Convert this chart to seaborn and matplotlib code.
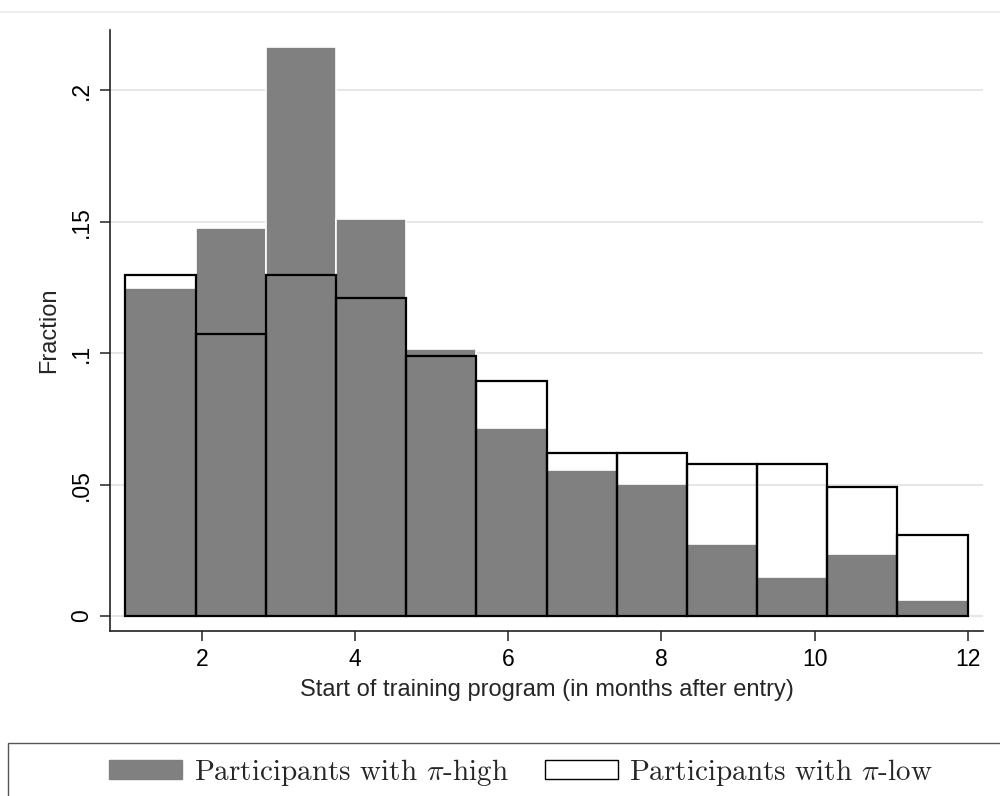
import numpy as np
import pandas as pd
import matplotlib
matplotlib.use("Agg")
import matplotlib.pyplot as plt
from matplotlib.patches import Patch, Rectangle
from matplotlib.lines import Line2D
import seaborn as sns

# ---- data (fractions per monthly bin) ----
bin_low_edge = 1
bin_high_edge = 12
n_bins = 12
frac_pi_high = [0.1248, 0.1475, 0.2167, 0.1512, 0.1017, 0.0716,
                0.0555, 0.0503, 0.0274, 0.0150, 0.0237, 0.0061]
frac_pi_low = [0.1299, 0.1075, 0.1299, 0.1212, 0.0988, 0.0895,
               0.0622, 0.0622, 0.0579, 0.0579, 0.0490, 0.0310]
x_ticks = [2, 4, 6, 8, 10, 12]
y_ticks = [0, 0.05, 0.10, 0.15, 0.20]
y_tick_labels = ["0", ".05", ".1", ".15", ".2"]
label_high = r"Participants with $\pi$-high"
label_low = r"Participants with $\pi$-low"

edges = np.linspace(bin_low_edge, bin_high_edge, n_bins + 1)
centers = (edges[:-1] + edges[1:]) / 2
df_high = pd.DataFrame({"start": centers, "frac": frac_pi_high})
df_low = pd.DataFrame({"start": centers, "frac": frac_pi_low})

sns.set_style("white")
plt.rcParams["font.family"] = ["Liberation Sans", "DejaVu Sans"]
plt.rcParams["mathtext.fontset"] = "cm"

fig = plt.figure(figsize=(10, 7.96), dpi=100)
ax = fig.add_axes([0.110, 0.2073, 0.873, 0.755])

gray = "#808080"
sns.histplot(data=df_high, x="start", weights="frac",
             bins=n_bins, binrange=(bin_low_edge, bin_high_edge),
             stat="count", color=gray, edgecolor="white",
             linewidth=1.2, alpha=1, ax=ax)
sns.histplot(data=df_low, x="start", weights="frac",
             bins=n_bins, binrange=(bin_low_edge, bin_high_edge),
             stat="count", fill=False, color="black",
             linewidth=1.6, ax=ax)

ax.set_xlim(0.8, 12.2)
ax.set_ylim(-0.0057, 0.223)
ax.set_xticks(x_ticks)
ax.set_yticks(y_ticks)
ax.set_yticklabels(y_tick_labels, rotation=90, va="center")
ax.grid(axis="y", color="#e6e6e6", linewidth=1.4, zorder=0)
ax.set_axisbelow(True)
for s in ["top", "right"]:
    ax.spines[s].set_visible(False)
for s in ["left", "bottom"]:
    ax.spines[s].set_color("#222222")
    ax.spines[s].set_linewidth(1.2)
ax.tick_params(axis="both", direction="out", length=7, width=1.1,
               color="#222222", labelsize=16.5, pad=5, labelcolor="black")
ax.tick_params(axis="both", which="both", bottom=True, left=True)
ax.set_xlabel("Start of training program (in months after entry)",
              fontsize=17, labelpad=6)
ax.set_ylabel("Fraction", fontsize=17, labelpad=7)

# faint outer frame line at the top
fig.add_artist(Line2D([0, 1], [1 - 12 / 796, 1 - 12 / 796],
                      transform=fig.transFigure, color="#ececec", lw=1.2))

# legend box (top and left borders visible)
fig.add_artist(Rectangle((8 / 1000, -0.05), 1.1, 0.05 + (796 - 743) / 796,
                         transform=fig.transFigure, fill=False,
                         edgecolor="#555555", lw=1.0, clip_on=False))
handles = [Patch(facecolor=gray, edgecolor=gray, label=label_high),
           Patch(facecolor="white", edgecolor="black", lw=1.0, label=label_low)]
fig.legend(handles=handles, loc="center", bbox_to_anchor=(0.521, 1 - 772 / 796),
           ncol=2, frameon=False, prop={"family": "cmr10", "size": 21},
           handlelength=2.5, handleheight=0.62, handletextpad=0.4,
           columnspacing=1.25)

fig.savefig("out.png", dpi=100)
